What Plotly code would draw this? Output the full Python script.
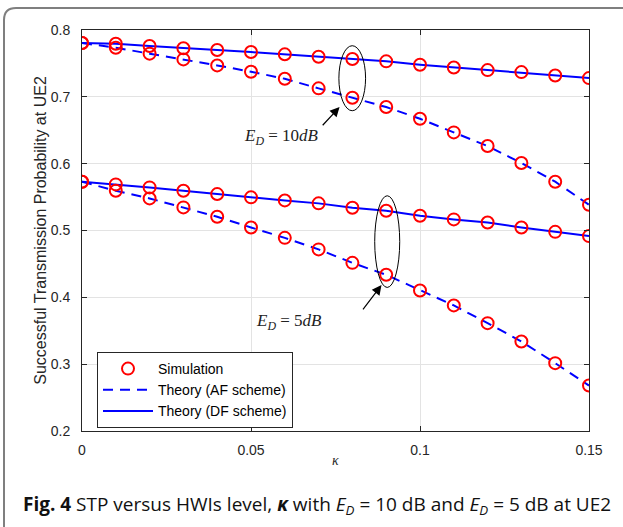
import plotly.graph_objects as go

kappa = [0, 0.01, 0.02, 0.03, 0.04, 0.05, 0.06, 0.07, 0.08, 0.09, 0.10, 0.11, 0.12, 0.13, 0.14, 0.15]

df_10 = [0.7805, 0.7795, 0.776, 0.7726, 0.770, 0.767, 0.7636, 0.760, 0.7566, 0.7531, 0.748, 0.744, 0.740, 0.737, 0.732, 0.728]
af_10 = [0.7805, 0.7735, 0.7646, 0.756, 0.747, 0.7376, 0.727, 0.7127, 0.6987, 0.6847, 0.6672, 0.6468, 0.6264, 0.601, 0.573, 0.5385]
df_5 = [0.573, 0.569, 0.5645, 0.5595, 0.5545, 0.5496, 0.545, 0.5406, 0.534, 0.5295, 0.522, 0.5166, 0.512, 0.5046, 0.498, 0.4916]
af_5 = [0.573, 0.5595, 0.548, 0.5346, 0.5205, 0.5046, 0.489, 0.4717, 0.4516, 0.4337, 0.4103, 0.3879, 0.3614, 0.334, 0.3015, 0.268]

x_ticks = [0, 0.05, 0.1, 0.15]
x_tick_text = ["0", "0.05", "0.1", "0.15"]
y_ticks = [0.2, 0.3, 0.4, 0.5, 0.6, 0.7, 0.8]
y_tick_text = ["0.2", "0.3", "0.4", "0.5", "0.6", "0.7", "0.8"]

BLUE = "#0000ff"
RED = "#ff0000"
AXC = "#262626"

fig = go.Figure()

# theory lines
for i, ys in enumerate([af_10, af_5]):
    fig.add_trace(go.Scatter(x=kappa, y=ys, mode="lines", name="Theory (AF scheme)",
                             line=dict(color=BLUE, width=2, dash="10px,7px"),
                             legendgroup="af", showlegend=(i == 0), legendrank=2))
for i, ys in enumerate([df_10, df_5]):
    fig.add_trace(go.Scatter(x=kappa, y=ys, mode="lines", name="Theory (DF scheme)",
                             line=dict(color=BLUE, width=2),
                             legendgroup="df", showlegend=(i == 0), legendrank=3))
# simulation markers
for i, ys in enumerate([df_10, af_10, df_5, af_5]):
    fig.add_trace(go.Scatter(x=kappa, y=ys, mode="markers", name="Simulation",
                             marker=dict(symbol="circle-open", size=12, color=RED,
                                         line=dict(color=RED, width=2)),
                             legendgroup="sim", showlegend=(i == 0), legendrank=1))

# ellipses
fig.add_shape(type="circle", xref="x", yref="y", x0=0.0760, x1=0.0839, y0=0.6792, y1=0.7765,
              line=dict(color="black", width=1))
fig.add_shape(type="circle", xref="x", yref="y", x0=0.0866, x1=0.0940, y0=0.4148, y1=0.5520,
              line=dict(color="black", width=1))

# arrows
fig.add_annotation(x=0.0762, y=0.6847, ax=0.0708, ay=0.6552, xref="x", yref="y",
                   axref="x", ayref="y", text="", showarrow=True, arrowhead=2,
                   arrowsize=1.6, arrowwidth=1.2, arrowcolor="black")
fig.add_annotation(x=0.0886, y=0.4183, ax=0.0828, ay=0.3798, xref="x", yref="y",
                   axref="x", ayref="y", text="", showarrow=True, arrowhead=2,
                   arrowsize=1.6, arrowwidth=1.2, arrowcolor="black")

serif = "Liberation Serif, DejaVu Serif, serif"
fig.add_annotation(x=0.059, y=0.640, xref="x", yref="y", showarrow=False,
                   text="<i>E</i><sub><i>D</i></sub> = 10<i>dB</i>",
                   font=dict(family=serif, size=17, color="#222222"))
fig.add_annotation(x=0.0612, y=0.363, xref="x", yref="y", showarrow=False,
                   text="<i>E</i><sub><i>D</i></sub> = 5<i>dB</i>",
                   font=dict(family=serif, size=17, color="#222222"))

# axis title kappa
fig.add_annotation(x=0.5, y=(431 - 470) / 401, xref="paper", yref="paper", showarrow=False,
                   text="<i>κ</i>", font=dict(family=serif, size=14, color=AXC))

# caption
fig.add_annotation(x=(317 - 82) / 507, y=(431 - 505) / 401, xref="paper", yref="paper",
                   showarrow=False, xanchor="center", yanchor="middle",
                   text="<b>Fig. 4</b> STP versus HWIs level, <b><i>κ</i></b> with <i>E<sub>D</sub></i> = 10 dB and <i>E<sub>D</sub></i> = 5 dB at UE2",
                   font=dict(family="Open Sans, Noto Sans, sans-serif", size=19, color="#111111"))

# outer border (top + left with rounded corner)
def px2paper(px, py):
    return (px - 82) / 507, (431 - py) / 401

p0 = px2paper(4, 527)
p1 = px2paper(4, 20)
p2 = px2paper(4, 8)
p3 = px2paper(16, 8)
p4 = px2paper(623, 8)
fig.add_shape(type="path", xref="paper", yref="paper",
              path=f"M {p0[0]},{p0[1]} L {p1[0]},{p1[1]} Q {p2[0]},{p2[1]} {p3[0]},{p3[1]} L {p4[0]},{p4[1]}",
              line=dict(color="#7f7f7f", width=2))

fig.update_layout(
    width=623, height=527,
    margin=dict(l=82, r=34, t=30, b=96),
    plot_bgcolor="white", paper_bgcolor="white",
    font=dict(family="Liberation Sans, Arial, sans-serif", size=14, color=AXC),
    showlegend=True,
    legend=dict(x=(97 - 82) / 507, y=(431 - 352) / 401, xanchor="left", yanchor="top",
                bgcolor="white", bordercolor=AXC, borderwidth=1,
                font=dict(size=14, color="#000000"), traceorder="normal",
                tracegroupgap=0, itemwidth=50),
)
fig.update_xaxes(range=[0, 0.15], tickvals=x_ticks, ticktext=x_tick_text,
                 showgrid=True, gridcolor="#e3e3e3", gridwidth=1,
                 showline=True, linecolor=AXC, linewidth=1, mirror="ticks",
                 ticks="inside", ticklen=5, tickcolor=AXC, zeroline=False,
                 ticklabelstandoff=6,
                 tickfont=dict(size=14, color=AXC))
fig.update_yaxes(range=[0.2, 0.8], tickvals=y_ticks, ticktext=y_tick_text,
                 showgrid=True, gridcolor="#e3e3e3", gridwidth=1,
                 showline=True, linecolor=AXC, linewidth=1, mirror="ticks",
                 ticks="inside", ticklen=5, tickcolor=AXC, zeroline=False,
                 ticklabelstandoff=8,
                 tickfont=dict(size=14, color=AXC),
                 title=dict(text="Successful Transmission Probability at UE2", standoff=0,
                            font=dict(size=16, color=AXC)))

fig.write_html("out.html")
